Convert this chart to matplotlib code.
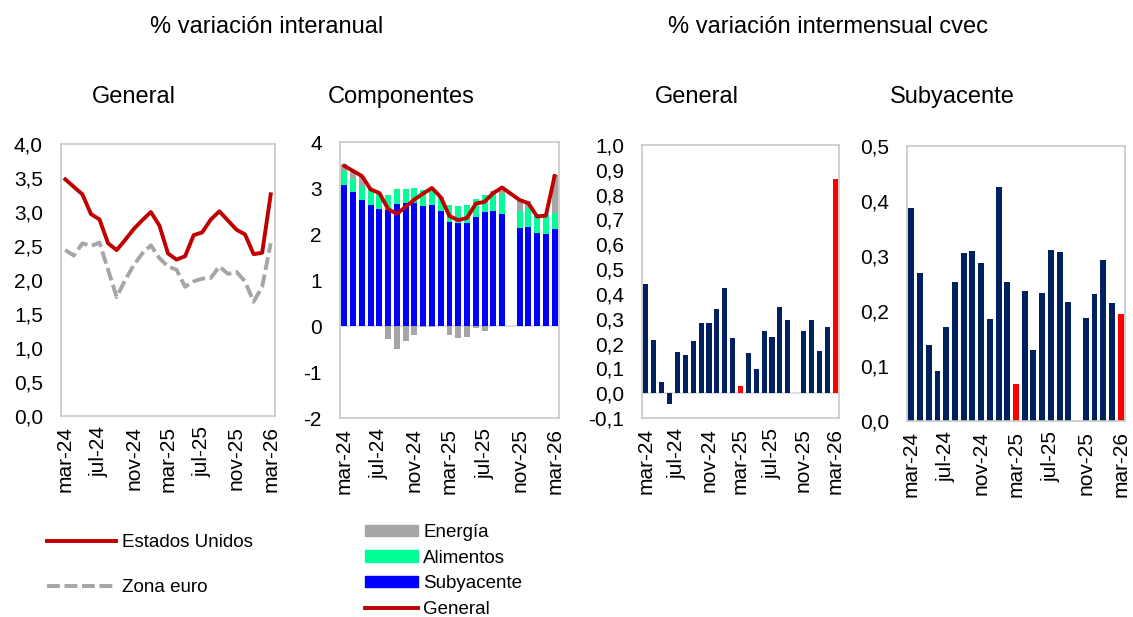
import numpy as np
import matplotlib
matplotlib.use("Agg")
import matplotlib.pyplot as plt
from matplotlib.lines import Line2D
from matplotlib.patches import Patch
from matplotlib.ticker import FuncFormatter, MultipleLocator

plt.rcParams["font.family"] = ["Liberation Sans", "DejaVu Sans"]

nan = np.nan

meses = ["mar-24", "abr-24", "may-24", "jun-24", "jul-24", "ago-24", "sep-24", "oct-24",
         "nov-24", "dic-24", "ene-25", "feb-25", "mar-25", "abr-25", "may-25", "jun-25",
         "jul-25", "ago-25", "sep-25", "oct-25", "nov-25", "dic-25", "ene-26", "feb-26", "mar-26"]

# % variacion interanual
eeuu_general = [3.48, 3.37, 3.26, 2.97, 2.89, 2.54, 2.44, 2.59, 2.75, 2.88, 3.00, 2.80, 2.39,
                2.30, 2.35, 2.66, 2.70, 2.89, 3.01, nan, 2.74, 2.67, 2.38, 2.40, 3.26]
zona_euro = [2.44, 2.36, 2.54, 2.50, 2.55, 2.15, 1.75, 2.00, 2.22, 2.39, 2.51, 2.32, 2.20,
             2.15, 1.90, 1.98, 2.02, 2.03, 2.20, 2.09, 2.12, 1.98, 1.68, 1.90, 2.54]

# contribuciones
subyacente = [3.06, 2.91, 2.75, 2.63, 2.55, 2.53, 2.66, 2.68, 2.68, 2.60, 2.62, 2.51, 2.26,
              2.23, 2.24, 2.37, 2.47, 2.51, 2.44, nan, 2.13, 2.15, 2.03, 1.99, 2.10]
alimentos = [0.31, 0.29, 0.29, 0.32, 0.35, 0.31, 0.31, 0.29, 0.32, 0.35, 0.38, 0.30, 0.38,
             0.38, 0.39, 0.40, 0.38, 0.38, 0.42, nan, 0.37, 0.41, 0.40, 0.45, 0.36]
energia = [0.16, 0.17, 0.22, 0.03, 0.00, -0.28, -0.49, -0.33, -0.20, -0.03, -0.02, 0.00, -0.20,
           -0.26, -0.23, -0.05, -0.10, 0.05, 0.13, nan, 0.25, 0.15, 0.00, 0.00, 0.83]

# % variacion intermensual cvec
mm_general = [0.44, 0.216, 0.045, -0.044, 0.166, 0.155, 0.21, 0.284, 0.284, 0.34, 0.425, 0.223,
              0.03, 0.16, 0.097, 0.252, 0.225, 0.346, 0.293, nan, 0.252, 0.296, 0.17, 0.266, 0.865]
mm_subyacente = [0.388, 0.27, 0.139, 0.091, 0.171, 0.253, 0.306, 0.31, 0.287, 0.185, 0.425, 0.253,
                 0.067, 0.237, 0.129, 0.233, 0.311, 0.308, 0.216, nan, 0.188, 0.231, 0.293, 0.214, 0.195]
resaltar = ["mar-25", "mar-26"]

tick_labels = meses[::4]

ROJO = "#C00000"
GRIS = "#A6A6A6"
VERDE = "#00FF99"
AZUL = "#0000FF"
NAVY = "#002060"
MARCO = "#C8C8C8"
DASH = (0, (3.3, 1.2))

W, H = 1133, 617
fig = plt.figure(figsize=(W / 100, H / 100), dpi=100)


def add_ax(left, top, right, bottom):
    return fig.add_axes([left / W, 1 - bottom / H, (right - left) / W, (bottom - top) / H])


def comma(dec):
    return FuncFormatter(lambda v, p: f"{v:.{dec}f}".replace(".", ","))


def style(ax):
    for s in ax.spines.values():
        s.set_color(MARCO)
        s.set_linewidth(1.2)
    ax.tick_params(axis="y", length=0, labelsize=15, pad=13)
    ax.tick_params(axis="x", length=0, labelsize=15, pad=7)
    ax.set_xticks(np.arange(0, len(meses), 4))
    ax.set_xticklabels(tick_labels, rotation=90)
    ax.set_xlim(-0.5, len(meses) - 0.5)


x = np.arange(len(meses))

# Panel 1: General interanual
ax1 = add_ax(61, 144, 275, 416)
us = np.array(eeuu_general)
m = ~np.isnan(us)
ax1.plot(x[m], us[m], color=ROJO, lw=2.8)
ax1.plot(x, zona_euro, color=GRIS, lw=2.8, ls=DASH)
ax1.set_ylim(0, 4)
ax1.yaxis.set_major_locator(MultipleLocator(0.5))
ax1.yaxis.set_major_formatter(comma(1))
style(ax1)

# Panel 2: Componentes
ax2 = add_ax(340, 142, 559, 418)
sub = np.array(subyacente)
ali = np.array(alimentos)
ene = np.array(energia)
m = ~np.isnan(sub)
bw = 0.68
ax2.bar(x[m], sub[m], width=bw, color=AZUL, zorder=2)
ax2.bar(x[m], ali[m], bottom=sub[m], width=bw, color=VERDE, zorder=2)
ene_bottom = np.where(ene >= 0, sub + ali, 0)
ax2.bar(x[m], ene[m], bottom=ene_bottom[m], width=bw, color=GRIS, zorder=2)
ax2.axhline(0, color="#D9D9D9", lw=1.2, zorder=1)
ax2.plot(x[m], us[m], color=ROJO, lw=2.8, zorder=3)
ax2.set_ylim(-2, 4)
ax2.yaxis.set_major_locator(MultipleLocator(1))
ax2.yaxis.set_major_formatter(FuncFormatter(lambda v, p: f"{v:.0f}"))
style(ax2)

# Panels 3 y 4: intermensual
colores = [("#FF0000" if mes in resaltar else NAVY) for mes in meses]
ax3 = add_ax(642, 145, 839, 418)
vals = np.array(mm_general)
m = ~np.isnan(vals)
ax3.bar(x[m], vals[m], width=0.64, color=np.array(colores)[m], zorder=2)
ax3.axhline(0, color="#D9D9D9", lw=1.2, zorder=1)
ax3.set_ylim(-0.1, 1.0)
ax3.yaxis.set_major_locator(MultipleLocator(0.1))
ax3.yaxis.set_major_formatter(comma(1))
style(ax3)

ax4 = add_ax(907, 146, 1125, 421)
vals = np.array(mm_subyacente)
m = ~np.isnan(vals)
ax4.bar(x[m], vals[m], width=0.68, color=np.array(colores)[m], zorder=2)
ax4.set_ylim(0, 0.5)
ax4.yaxis.set_major_locator(MultipleLocator(0.1))
ax4.yaxis.set_major_formatter(comma(1))
style(ax4)

# Titles
fig.text(267 / W, 1 - 27 / H, "% variación interanual", ha="center", va="center", fontsize=17)
fig.text(828 / W, 1 - 27 / H, "% variación intermensual cvec", ha="center", va="center", fontsize=17)
for xc, t in [(134, "General"), (401, "Componentes"), (697, "General"), (952, "Subyacente")]:
    fig.text(xc / W, 1 - 97 / H, t, ha="center", va="center", fontsize=17)

# Legends
h1 = [Line2D([], [], color=ROJO, lw=2.8),
      Line2D([], [], color=GRIS, lw=2.8, ls=DASH)]
fig.legend(h1, ["Estados Unidos", "Zona euro"], loc="upper left",
           bbox_to_anchor=(47 / W, 1 - 534 / H), frameon=False, fontsize=13.5,
           borderpad=0, borderaxespad=0,
           handlelength=3.7, handletextpad=0.3, labelspacing=1.5)

h2 = [Patch(color=GRIS), Patch(color=VERDE), Patch(color=AZUL),
      Line2D([], [], color=ROJO, lw=2.8)]
fig.legend(h2, ["Energía", "Alimentos", "Subyacente", "General"], loc="upper left",
           bbox_to_anchor=(365 / W, 1 - 524 / H), frameon=False, fontsize=13.5,
           borderpad=0, borderaxespad=0,
           handlelength=2.8, handleheight=0.55, handletextpad=0.3, labelspacing=0.46)

fig.savefig("out.png", dpi=100)
